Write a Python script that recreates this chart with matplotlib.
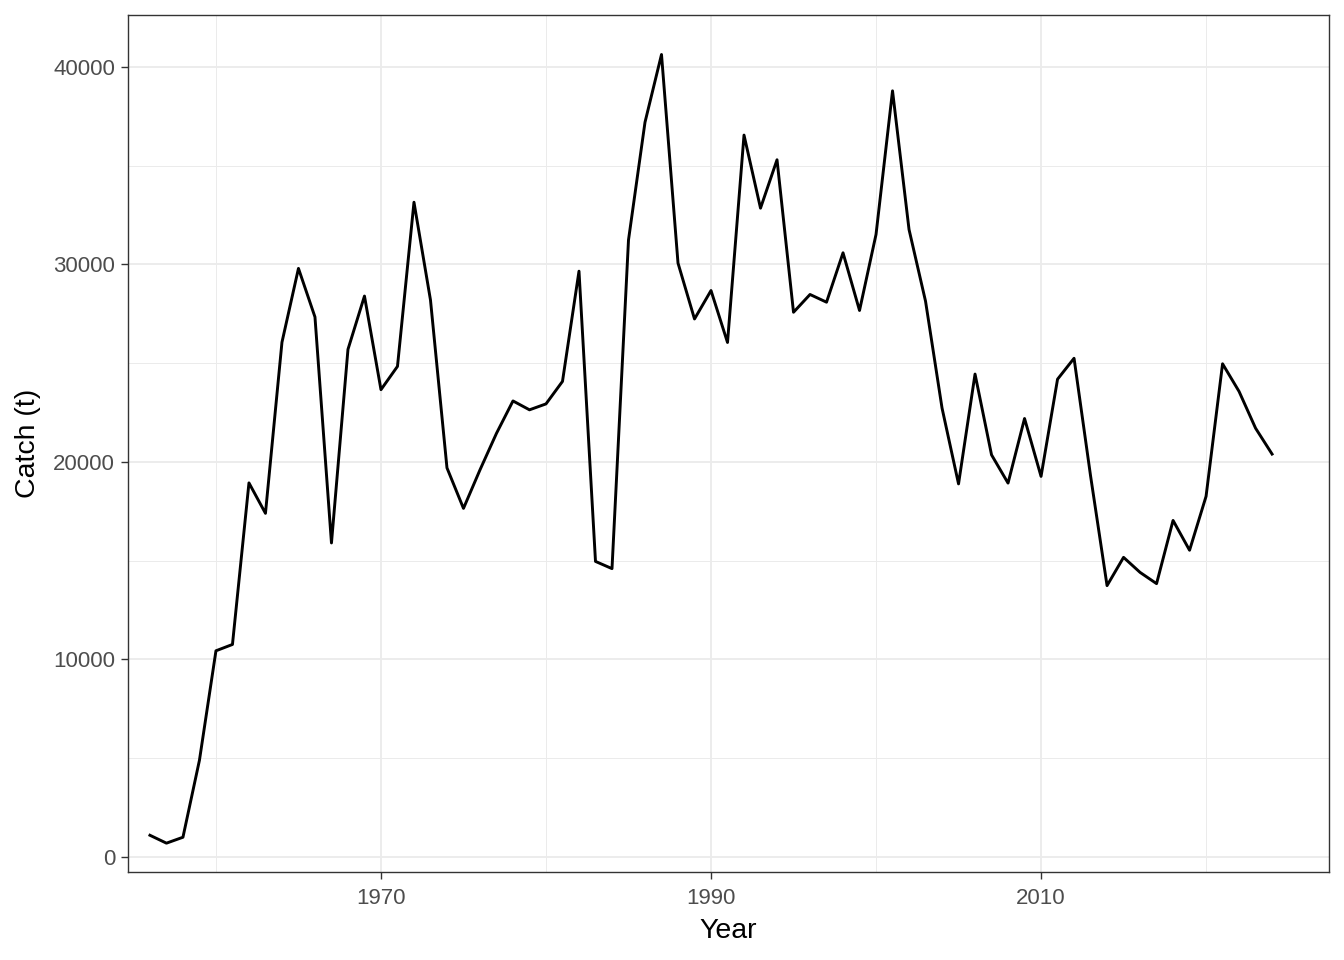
import numpy as np
import matplotlib
matplotlib.use('Agg')
import matplotlib.pyplot as plt
from matplotlib.ticker import FixedLocator

years = list(range(1956, 2025))
catch = [1100, 700, 1000, 4900, 10440, 10760, 18940, 17400, 26060, 29800,
         27340, 15900, 25700, 28400, 23660, 24840, 33150, 28200, 19700, 17650,
         19600, 21450, 23090, 22640, 22940, 24080, 29660, 14965, 14600, 31240,
         37200, 40630, 30070, 27240, 28680, 26050, 36550, 32850, 35300, 27580,
         28480, 28090, 30590, 27670, 31520, 38790, 31770, 28140, 22730, 18890,
         24450, 20360, 18930, 22200, 19270, 24190, 25250, 19300, 13740, 15170,
         14410, 13840, 17040, 15530, 18260, 24970, 23570, 21710, 20400]

x_major = [1970, 1990, 2010]
x_minor = [1960, 1980, 2000, 2020]
y_major = [0, 10000, 20000, 30000, 40000]
y_minor = [5000, 15000, 25000, 35000]

plt.rcParams['font.family'] = ['Liberation Sans', 'DejaVu Sans']

fig = plt.figure(figsize=(13.44, 9.6), dpi=100)
ax = fig.add_axes([128/1344, (960-872)/960, (1329-128)/1344, (872-15)/960])

# ggplot theme_bw look
ax.set_facecolor('white')
ax.xaxis.set_major_locator(FixedLocator(x_major))
ax.xaxis.set_minor_locator(FixedLocator(x_minor))
ax.yaxis.set_major_locator(FixedLocator(y_major))
ax.yaxis.set_minor_locator(FixedLocator(y_minor))
ax.grid(True, which='major', color='#EBEBEB', linewidth=1.3)
ax.grid(True, which='minor', color='#EBEBEB', linewidth=0.7)
ax.set_axisbelow(True)

ax.plot(years, catch, color='black', linewidth=2.1)

ax.set_xlim(1954.67, 2027.45)
ax.set_ylim(-760, 42630)

for s in ax.spines.values():
    s.set_color('#333333')
    s.set_linewidth(1.0)

ax.tick_params(which='major', length=5.2, width=1.0, color='#333333',
               labelsize=16, labelcolor='#4D4D4D', pad=4)
ax.tick_params(axis='x', which='major', pad=6)
ax.tick_params(which='minor', length=0)

ax.set_xlabel('Year', fontsize=20.5, labelpad=7)
ax.set_ylabel('Catch (t)', fontsize=20.5, labelpad=9)

fig.savefig('out.png', dpi=100)
